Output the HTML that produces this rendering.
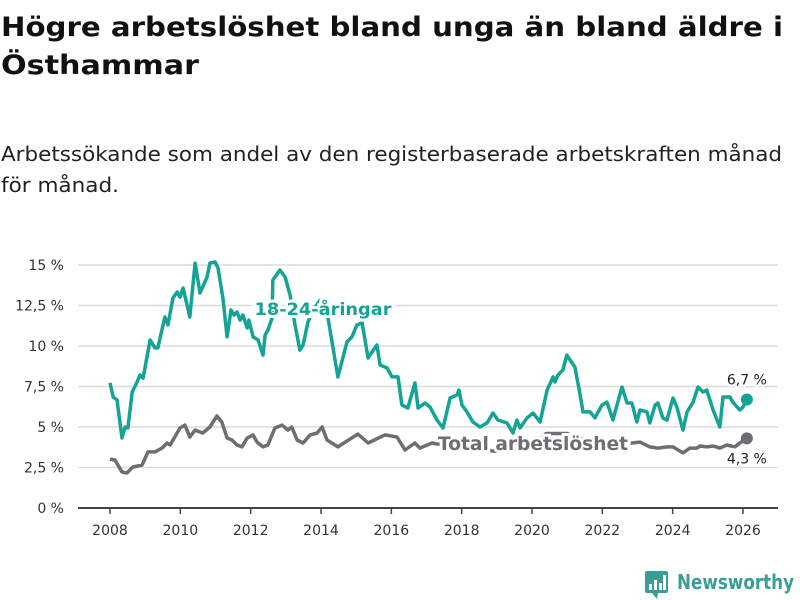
<!DOCTYPE html>
<html><head><meta charset="utf-8"><style>
html,body{margin:0;padding:0;background:#fff;}
svg{display:block;font-family:"DejaVu Sans","Liberation Sans",sans-serif;}
</style></head><body>
<svg id="chart" width="800" height="600" viewBox="0 0 800 600">
<text x="1" y="36" font-size="27" font-weight="bold" fill="#111" textLength="782" lengthAdjust="spacingAndGlyphs">Högre arbetslöshet bland unga än bland äldre i</text>
<text x="1" y="74" font-size="27" font-weight="bold" fill="#111" textLength="198" lengthAdjust="spacingAndGlyphs">Östhammar</text>
<text x="1" y="161" font-size="20" fill="#222" textLength="781" lengthAdjust="spacingAndGlyphs">Arbetssökande som andel av den registerbaserade arbetskraften månad</text>
<text x="1" y="192" font-size="20" fill="#222" textLength="118" lengthAdjust="spacingAndGlyphs">för månad.</text>
<g id="grid"></g><g id="axes"></g><g id="series"></g><g id="labels"></g>
<g>
<rect x="645" y="571" width="23" height="22" rx="2" fill="#3a9e97"/>
<path d="M652 593 L657 599 L658 593Z" fill="#3a9e97"/>
<rect x="649" y="584" width="3" height="6" fill="#fff"/><rect x="654" y="580" width="3" height="10" fill="#fff"/><rect x="659" y="583" width="3" height="7" fill="#fff"/><rect x="663" y="575" width="3" height="15" fill="#fff"/>
<text x="677" y="589" font-size="20" font-weight="bold" fill="#3a9e97" textLength="117" lengthAdjust="spacingAndGlyphs">Newsworthy</text>
</g>
</svg>
<script>
const yTicks = [0, 2.5, 5, 7.5, 10, 12.5, 15];
const yTickLabels = ["0 %","2,5 %","5 %","7,5 %","10 %","12,5 %","15 %"];
const xTicks = [2008,2010,2012,2014,2016,2018,2020,2022,2024,2026];
const youthYears = [2008.00,2008.09,2008.20,2008.34,2008.43,2008.51,2008.63,2008.77,2008.85,2008.94,2009.14,2009.28,2009.36,2009.56,2009.65,2009.79,2009.91,2009.99,2010.08,2010.27,2010.42,2010.56,2010.76,2010.84,2010.99,2011.07,2011.21,2011.33,2011.44,2011.53,2011.61,2011.70,2011.78,2011.90,2011.95,2012.07,2012.21,2012.35,2012.41,2012.49,2012.61,2012.63,2012.83,2012.98,2013.12,2013.26,2013.40,2013.49,2013.63,2013.77,2013.97,2014.20,2014.48,2014.74,2014.88,2015.02,2015.17,2015.34,2015.45,2015.59,2015.68,2015.88,2016.02,2016.19,2016.30,2016.47,2016.67,2016.76,2016.96,2017.10,2017.30,2017.47,2017.67,2017.87,2017.92,2018.01,2018.15,2018.32,2018.52,2018.72,2018.89,2019.03,2019.29,2019.46,2019.57,2019.66,2019.86,2020.03,2020.23,2020.43,2020.60,2020.65,2020.74,2020.88,2020.99,2021.14,2021.22,2021.36,2021.45,2021.65,2021.79,2021.99,2022.13,2022.30,2022.56,2022.70,2022.84,2022.98,2023.07,2023.27,2023.35,2023.50,2023.58,2023.72,2023.84,2024.01,2024.12,2024.29,2024.41,2024.58,2024.72,2024.86,2024.97,2025.15,2025.34,2025.43,2025.63,2025.71,2025.91,2026.00,2026.11];
const youthValues = [7.72,6.85,6.67,4.32,5.0,4.94,7.16,7.78,8.21,8.02,10.37,9.88,9.88,11.79,11.30,12.96,13.33,13.02,13.58,11.79,15.12,13.27,14.26,15.12,15.19,14.81,12.96,10.56,12.22,11.91,12.10,11.60,11.91,11.11,11.60,10.56,10.37,9.44,10.68,10.99,11.73,14.07,14.69,14.26,13.15,11.30,9.75,10.06,11.48,12.2,12.8,11.73,8.09,10.25,10.56,11.30,11.42,9.26,9.63,10.06,8.83,8.64,8.09,8.09,6.36,6.17,7.72,6.17,6.48,6.23,5.43,4.94,6.79,6.98,7.28,6.36,5.93,5.31,5.0,5.25,5.86,5.43,5.25,4.63,5.43,4.94,5.56,5.86,5.31,7.28,8.09,7.78,8.21,8.52,9.44,8.95,8.70,7.10,5.93,5.93,5.56,6.36,6.54,5.43,7.47,6.48,6.48,5.31,6.05,5.93,5.25,6.36,6.48,5.56,5.43,6.79,6.23,4.81,5.93,6.54,7.47,7.16,7.28,6.05,5.0,6.85,6.85,6.54,6.05,6.23,6.7];
const totalYears = [2008.00,2008.14,2008.34,2008.48,2008.65,2008.91,2009.08,2009.28,2009.48,2009.62,2009.71,2009.99,2010.13,2010.27,2010.42,2010.64,2010.84,2011.04,2011.18,2011.33,2011.47,2011.61,2011.75,2011.90,2012.07,2012.18,2012.35,2012.49,2012.69,2012.89,2013.06,2013.17,2013.32,2013.49,2013.69,2013.89,2014.03,2014.17,2014.48,2015.05,2015.34,2015.82,2016.16,2016.39,2016.67,2016.81,2017.16,2017.30,2017.8,2018.5,2019.0,2019.5,2020.0,2020.4,2021.0,2021.5,2022.0,2022.5,2022.84,2023.07,2023.35,2023.58,2023.84,2024.01,2024.29,2024.49,2024.69,2024.78,2024.97,2025.15,2025.34,2025.54,2025.77,2025.91,2026.11];
const totalValues = [3.02,2.96,2.22,2.16,2.53,2.65,3.46,3.46,3.70,4.01,3.89,4.94,5.12,4.38,4.81,4.63,5.0,5.68,5.31,4.32,4.20,3.89,3.77,4.32,4.51,4.07,3.77,3.89,4.94,5.12,4.81,5.0,4.20,4.01,4.51,4.63,5.0,4.20,3.77,4.57,4.01,4.51,4.38,3.58,4.01,3.70,4.01,3.95,3.9,3.6,3.5,3.6,3.7,4.6,4.6,4.2,3.9,3.8,4.01,4.07,3.77,3.70,3.77,3.77,3.40,3.70,3.70,3.83,3.77,3.83,3.70,3.89,3.77,4.01,4.3];
const youthLast = "6,7 %";
const totalLast = "4,3 %";

const NS = "http://www.w3.org/2000/svg";
const X0 = 110, X1 = 743, Y0 = 508, Y1 = 265;
function xScale(yr){ return X0 + (yr - 2008) / 18 * (X1 - X0); }
function yScale(v){ return Y0 - v / 15 * (Y0 - Y1); }
function mk(tag, attrs, parent){ const e = document.createElementNS(NS, tag); for (const k in attrs) e.setAttribute(k, attrs[k]); parent.appendChild(e); return e; }
const grid = document.getElementById('grid'), axes = document.getElementById('axes'), series = document.getElementById('series'), labels = document.getElementById('labels');

yTicks.forEach((t, i) => {
  if (t > 0) {
    const g = mk('line', {x1:78, x2:778, y1:yScale(t), y2:yScale(t), stroke:'#dcdcdc', 'stroke-width':1.5}, grid);
    
    
  }
  const tx = mk('text', {x:64, y:yScale(t)+5, 'font-size':14, fill:'#333', 'text-anchor':'end'}, axes);
  tx.textContent = yTickLabels[i];
  
  
});
const base = mk('line', {x1:78, x2:778, y1:Y0, y2:Y0, stroke:'#444', 'stroke-width':2}, axes);


xTicks.forEach(t => {
  const tk = mk('line', {x1:xScale(t), x2:xScale(t), y1:Y0, y2:Y0+6, stroke:'#444', 'stroke-width':1.5}, axes);
  
  
  const tx = mk('text', {x:xScale(t), y:Y0+27, 'font-size':14, fill:'#333', 'text-anchor':'middle'}, axes);
  tx.textContent = String(t);
  
  
});

function pathFor(xs, vs){ return xs.map((x,i)=>(i?'L':'M')+xScale(x).toFixed(1)+' '+yScale(vs[i]).toFixed(1)).join(' '); }
const tl = mk('path', {d:pathFor(totalYears,totalValues), fill:'none', stroke:'#6e6d72', 'stroke-width':3.5, 'stroke-linejoin':'round'}, series);


const yl = mk('path', {d:pathFor(youthYears,youthValues), fill:'none', stroke:'#14a394', 'stroke-width':3.5, 'stroke-linejoin':'round'}, series);



const yn = youthYears.length - 1, tn = totalYears.length - 1;
const yd = mk('circle', {cx:xScale(youthYears[yn]), cy:yScale(youthValues[yn]), r:6, fill:'#14a394'}, series);


const td = mk('circle', {cx:xScale(totalYears[tn]), cy:yScale(totalValues[tn]), r:6, fill:'#6e6d72'}, series);



const yv = mk('text', {x:xScale(youthYears[yn]), y:yScale(youthValues[yn])-15, 'font-size':14, fill:'#222', 'text-anchor':'middle', stroke:'#fff', 'stroke-width':4, 'paint-order':'stroke'}, labels);
yv.textContent = youthLast;


const tv = mk('text', {x:xScale(totalYears[tn]), y:yScale(totalValues[tn])+25, 'font-size':14, fill:'#222', 'text-anchor':'middle', stroke:'#fff', 'stroke-width':4, 'paint-order':'stroke'}, labels);
tv.textContent = totalLast;



const ylab = mk('text', {x:323, y:315, 'font-size':17, 'font-weight':'bold', fill:'#14a394', 'text-anchor':'middle', stroke:'#fff', 'stroke-width':6, 'paint-order':'stroke', textLength:137, lengthAdjust:'spacingAndGlyphs'}, labels);
ylab.textContent = '18-24-åringar';


const tlab = mk('text', {x:533, y:450, 'font-size':19, 'font-weight':'bold', fill:'#6e6d72', 'text-anchor':'middle', stroke:'#fff', 'stroke-width':6, 'paint-order':'stroke', textLength:190, lengthAdjust:'spacingAndGlyphs'}, labels);
tlab.textContent = 'Total arbetslöshet';


</script>
</body></html>
